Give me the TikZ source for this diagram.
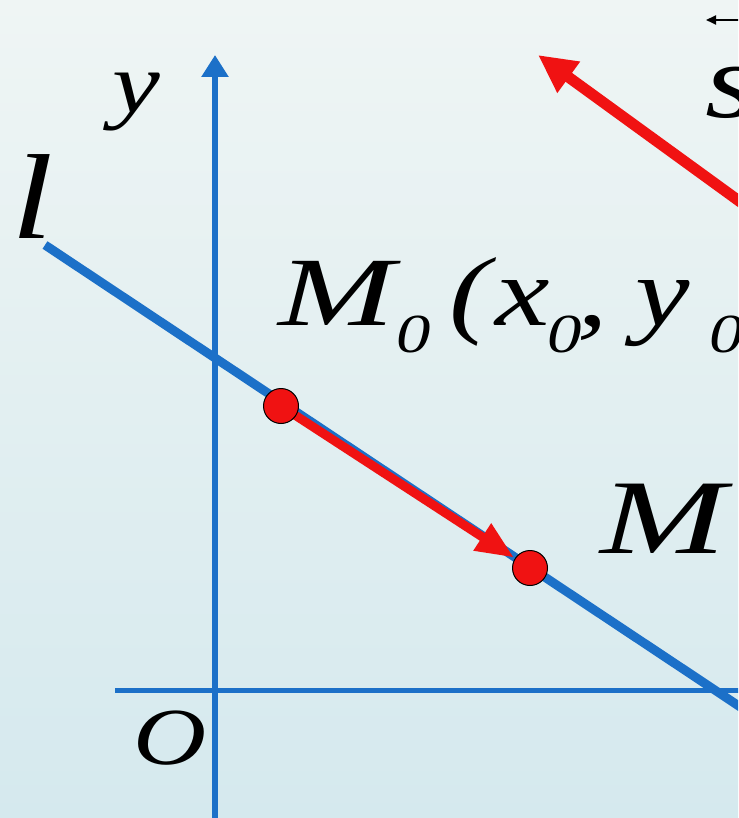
\documentclass[tikz,border=0pt]{standalone}
\usepackage{fontspec}
\setmainfont{Liberation Serif}
\newfontfamily\labfont[FakeStretch=1.25]{Liberation Serif Italic}
\usetikzlibrary{arrows.meta}
\definecolor{axblue}{RGB}{28,112,200}
\definecolor{vecred}{RGB}{240,18,18}
\definecolor{bgtop}{RGB}{239,245,244}
\definecolor{bgbot}{RGB}{213,233,238}
\newcommand\subz[1]{\raisebox{-27pt}{\fontsize{55}{55}\selectfont #1}}
\newcommand\wideM{\scalebox{1.14}[1]{M}}
\begin{document}
\begin{tikzpicture}[x=1pt,y=-1pt,
  lab/.style={inner sep=0pt, outer sep=0pt, anchor=base west},
  axisline/.style={axblue, line width=6pt},
  lline/.style={axblue, line width=9pt},
  redvec/.style={vecred, line width=9pt, -{Triangle[length=38pt,width=30pt]}},
  dotpt/.style={circle, fill=vecred, draw=black, line width=1pt, minimum size=35pt, inner sep=0pt}]
\useasboundingbox (0,0) rectangle (738,818);
\clip (0,0) rectangle (738,818);
\shade[top color=bgtop, bottom color=bgbot] (0,0) rectangle (738,818);
% coordinates
\coordinate (yb) at (215,830);
\coordinate (yt) at (215,55);
\coordinate (xl) at (115,690);
\coordinate (xr) at (760,690);
\coordinate (la) at (45,245);
\coordinate (lb) at (790,740);
\coordinate (p0) at (281,406);
\coordinate (p1) at (530,568);
\coordinate (sa) at (790,238);
\coordinate (sb) at (538,55);
\coordinate (va) at (745,20);
\coordinate (vb) at (706,20);
% axes and line
\draw[axisline, -{Triangle[length=22pt,width=26pt]}] (yb) -- (yt);
\draw[axblue, line width=5pt] (xl) -- (xr);
\draw[lline] (la) -- (lb);
% vectors
\draw[redvec, shorten >=19pt] (p0) -- (p1);
\draw[vecred, line width=11pt, -{Triangle[length=38pt,width=36pt]}] (sa) -- (sb);
\draw[black, line width=2pt, -{Triangle[length=10pt,width=9pt]}] (va) -- (vb);
% points
\node[dotpt] (m0) at (p0) {};
\node[dotpt] (m) at (p1) {};
% labels
\node[lab, font={\labfont\fontsize{121}{121}\selectfont}] (llab) at (12,238) {l};
\node[lab, font={\labfont\fontsize{86}{86}\selectfont}] (ylab) at (112,113) {y};
\node[lab, font={\labfont\fontsize{81}{81}\selectfont}] (olab) at (133,764) {O};
\node[lab, font={\labfont\fontsize{107}{107}\selectfont}] (slab) at (705,118) {s};
\node[lab, font={\labfont\fontsize{98}{98}\selectfont}] (m0lab) at (278,325)
  {\wideM\hspace{2pt}\subz{0}\hspace{19pt}(\hspace{5pt}x\hspace{-2pt}\subz{0}\hspace{-5pt},\hspace{-3pt} y\hspace{20pt}\subz{0}, z\subz{0})};
\node[lab, font={\labfont\fontsize{106}{106}\selectfont}] (mlab) at (600,553) {\wideM\hspace{10pt}(x, y, z)};
\end{tikzpicture}
\end{document}
